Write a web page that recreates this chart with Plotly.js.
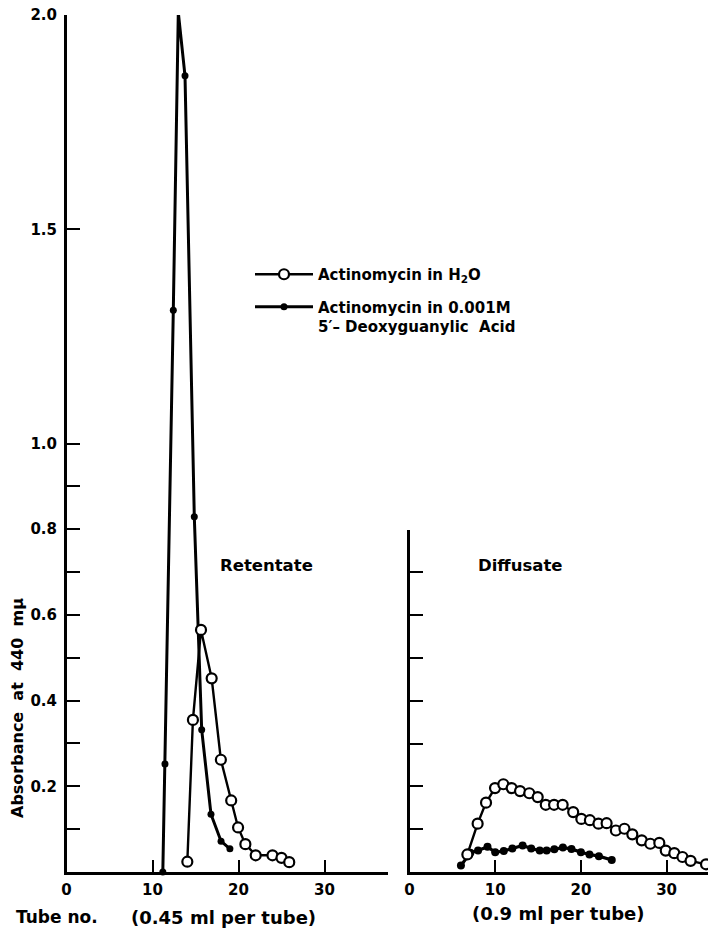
<!DOCTYPE html>
<html>
<head>
<meta charset="utf-8">
<script src="https://cdn.plot.ly/plotly-3.0.1.min.js"></script>
<style>
  html, body { margin: 0; padding: 0; background: #ffffff; }
  #chart { width: 708px; height: 931px; }
</style>
</head>
<body>
<div id="chart"></div>
<script>
// ---------- Data ----------
// Retentate (0.45 ml per tube)
const tubeRetH2O = [14.05, 14.7, 15.64, 16.88, 17.95, 19.15, 19.95, 20.8, 22.0, 23.95, 25.0, 25.9];
const absRetH2O  = [0.024, 0.355, 0.565, 0.452, 0.262, 0.167, 0.104, 0.065, 0.039, 0.039, 0.033, 0.023];

const tubeRetDG = [11.2, 11.45, 12.42, 13.0, 13.78, 14.86, 15.72, 16.8, 17.97, 19.0];
const absRetDG  = [0.0, 0.252, 1.311, 2.006, 1.858, 0.829, 0.332, 0.135, 0.072, 0.054];

// Diffusate (0.9 ml per tube)
const tubeDifH2O = [6.75, 7.95, 8.93, 9.98, 10.95, 11.92, 12.9, 13.98, 14.96, 15.9, 16.87, 17.87, 19.1, 20.05, 21.05, 22.05, 23.0, 24.08, 25.08, 26.0, 27.1, 28.1, 29.15, 29.9, 30.9, 31.85, 32.8, 34.6];
const absDifH2O  = [0.041, 0.113, 0.162, 0.196, 0.205, 0.196, 0.189, 0.184, 0.175, 0.157, 0.157, 0.157, 0.140, 0.124, 0.121, 0.113, 0.114, 0.097, 0.101, 0.088, 0.074, 0.066, 0.068, 0.050, 0.044, 0.035, 0.026, 0.018];

const tubeDifDG = [6.0, 7.1, 8.0, 9.1, 10.0, 11.0, 12.0, 13.2, 14.2, 15.2, 16.0, 16.9, 17.9, 18.9, 20.0, 21.0, 22.1, 23.6];
const absDifDG  = [0.015, 0.045, 0.050, 0.059, 0.046, 0.049, 0.055, 0.062, 0.055, 0.050, 0.050, 0.053, 0.057, 0.054, 0.046, 0.041, 0.037, 0.028];

// Series names
const nameH2O = 'Actinomycin in H<sub>2</sub>O';
const nameDG  = 'Actinomycin in 0.001M<br>5′– Deoxyguanylic  Acid';

// Tick values and labels
const yTickValsLeft  = [0.2, 0.4, 0.6, 0.8, 1.0, 1.5, 2.0];
const yTickTextLeft  = ['0.2', '0.4', '0.6', '0.8', '1.0', '1.5', '2.0'];
const yMinorValsLeft = [0.1, 0.3, 0.5, 0.7, 0.9];
const yTickValsRight = [0.1, 0.2, 0.3, 0.4, 0.5, 0.6, 0.7, 0.8];
const xTickVals = [0, 10, 20, 30];
const xTickText = ['0', '10', '20', '30'];

// ---------- Styling ----------
const W = 708, H = 931;
const FONT = 'DejaVu Sans, Arial, sans-serif';
const px = v => v / W;
const py = v => (H - v) / H;

const openMarker = { symbol: 'circle', size: 10, color: '#ffffff', line: { color: '#000000', width: 2.2 } };
const filledMarker = { symbol: 'circle', size: 7, color: '#000000' };

const traces = [
  { x: tubeRetDG, y: absRetDG, xaxis: 'x', yaxis: 'y', mode: 'lines+markers', name: nameDG,
    legendgroup: 'b', legendrank: 2,
    line: { color: '#000', width: 3 }, marker: filledMarker, cliponaxis: false },
  { x: tubeRetH2O, y: absRetH2O, xaxis: 'x', yaxis: 'y', mode: 'lines+markers', name: nameH2O,
    legendgroup: 'a', legendrank: 1,
    line: { color: '#000', width: 2.4 }, marker: openMarker, cliponaxis: false },
  { x: tubeDifDG, y: absDifDG, xaxis: 'x2', yaxis: 'y2', mode: 'lines+markers', name: nameDG, showlegend: false,
    line: { color: '#000', width: 3.2 }, marker: { symbol: 'circle', size: 8, color: '#000' }, cliponaxis: false },
  { x: tubeDifH2O, y: absDifH2O, xaxis: 'x2', yaxis: 'y2', mode: 'lines+markers', name: nameH2O, showlegend: false,
    line: { color: '#000', width: 2.4 }, marker: openMarker, cliponaxis: false }
];

const axisFont = { family: FONT, size: 15, color: '#000', weight: 'bold' };
const commonX = {
  showgrid: false, zeroline: false, showline: true, linecolor: '#000', linewidth: 2.5,
  ticks: 'inside', ticklen: 12, tickwidth: 2, tickcolor: '#000',
  tickmode: 'array', tickvals: xTickVals, ticktext: xTickText, tickfont: axisFont,
  ticklabelstandoff: 2, fixedrange: true
};
const commonY = {
  showgrid: false, zeroline: false, showline: true, linecolor: '#000', linewidth: 2.5,
  ticks: 'inside', ticklen: 13, tickwidth: 2, tickcolor: '#000', tickfont: axisFont,
  tickmode: 'array', fixedrange: true
};

const layout = {
  width: W, height: H,
  margin: { l: 0, r: 0, t: 0, b: 0 },
  paper_bgcolor: '#fff', plot_bgcolor: 'rgba(0,0,0,0)',
  font: { family: FONT, color: '#000' },
  showlegend: true,
  legend: {
    x: px(250), y: py(258), xanchor: 'left', yanchor: 'top',
    bgcolor: 'rgba(0,0,0,0)', borderwidth: 0,
    font: { family: FONT, size: 15, color: '#000', weight: 'bold' },
    valign: 'top', traceorder: 'grouped', tracegroupgap: 10, itemwidth: 58
  },
  xaxis: Object.assign({}, commonX, { domain: [px(66.5), px(388)], range: [0, (388 - 66.5) / 8.6], anchor: 'y' }),
  yaxis: Object.assign({}, commonY, { domain: [py(872), py(15)], range: [0, 2.0], anchor: 'x',
    tickvals: yTickValsLeft, ticktext: yTickTextLeft, ticklabelstandoff: 4,
    minor: { tickmode: 'array', tickvals: yMinorValsLeft, ticks: 'inside', ticklen: 13, tickwidth: 2, tickcolor: '#000', showgrid: false } }),
  xaxis2: Object.assign({}, commonX, { domain: [px(409.5), 1], range: [0, (708 - 409.5) / 8.57], anchor: 'y2' }),
  yaxis2: Object.assign({}, commonY, { domain: [py(872), py(529.6)], range: [0, 0.8], anchor: 'x2',
    tickvals: yTickValsRight, showticklabels: false }),
  annotations: [
    { xref: 'paper', yref: 'paper', x: px(17), y: py(708), text: 'Absorbance  at  440  mμ', textangle: -90,
      showarrow: false, xanchor: 'center', yanchor: 'middle', font: { family: FONT, size: 16, weight: 'bold' } },
    { xref: 'paper', yref: 'paper', x: px(14), y: py(917), text: 'Tube no.', showarrow: false,
      xanchor: 'left', yanchor: 'middle', font: { family: FONT, size: 17, weight: 'bold' } },
    { xref: 'paper', yref: 'paper', x: px(223), y: py(917), text: '(0.45 ml per tube)', showarrow: false,
      xanchor: 'center', yanchor: 'middle', font: { family: FONT, size: 18, weight: 'bold' } },
    { xref: 'paper', yref: 'paper', x: px(558), y: py(913), text: '(0.9 ml per tube)', showarrow: false,
      xanchor: 'center', yanchor: 'middle', font: { family: FONT, size: 18, weight: 'bold' } },
    { xref: 'paper', yref: 'paper', x: px(266), y: py(565), text: 'Retentate', showarrow: false,
      xanchor: 'center', yanchor: 'middle', font: { family: FONT, size: 16.5, weight: 'bold' } },
    { xref: 'paper', yref: 'paper', x: px(520), y: py(565), text: 'Diffusate', showarrow: false,
      xanchor: 'center', yanchor: 'middle', font: { family: FONT, size: 16.5, weight: 'bold' } }
  ]
};

Plotly.newPlot('chart', traces, layout, { staticPlot: true, displayModeBar: false });
</script>
</body>
</html>
